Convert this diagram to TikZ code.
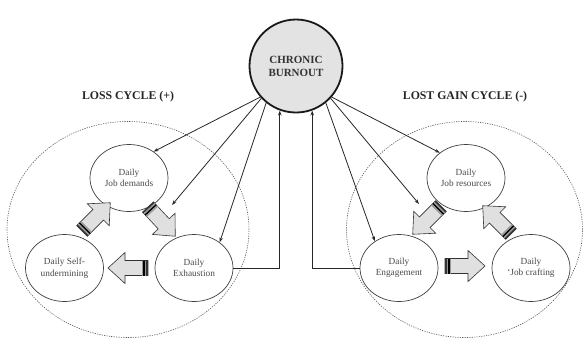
\documentclass[tikz,border=0pt]{standalone}
\usepackage{fontspec}
\setmainfont{Liberation Serif}
\usetikzlibrary{arrows.meta,calc,shapes.geometric}
\definecolor{txt}{HTML}{4A4A4A}
\definecolor{afill}{HTML}{E0E0E0}
\definecolor{bfill}{HTML}{E3E3E3}
\tikzset{
  daily/.style={ellipse, draw=black!75, fill=white, line width=0.7pt, minimum width=78pt, minimum height=67pt, inner sep=0pt, align=center, font=\fontsize{9.3}{11.5}\selectfont, text=txt},
  burnstyle/.style={circle, draw=black!90, fill=bfill, line width=1.8pt, minimum size=93pt, inner sep=0pt, align=center, font=\fontsize{11}{13}\selectfont\bfseries, text=black!80},
  cyclestyle/.style={draw=black!65, dash pattern=on 1.2pt off 1.2pt, line width=0.6pt},
  link/.style={draw=black!85, line width=0.8pt, -{Stealth[length=5pt,width=3.5pt]}},
  titlestyle/.style={font=\fontsize{11.8}{14}\selectfont\bfseries, text=black!85},
  blockarrow/.pic={
    \path[fill=afill, draw=black!80, line width=0.6pt] (0,-7.5) -- (23,-7.5) -- (23,-15.5) -- (40,0) -- (23,15.5) -- (23,7.5) -- (0,7.5) -- cycle;
    \fill[black!80] (0,-7.5) rectangle (1.6,7.5);
    \fill[black!40] (1.6,-7.5) rectangle (3.2,7.5);
    \fill[black] (3.2,-7.5) rectangle (4.8,7.5);
    \fill[black!40] (4.8,-7.5) rectangle (6.4,7.5);
  }
}
\begin{document}
\begin{tikzpicture}[x=1pt,y=1pt]
\useasboundingbox (0,0) rectangle (584,-357);
% dashed cycles
\draw[cyclestyle] (128,-229.5) ellipse [x radius=121, y radius=108];
\draw[cyclestyle] (464.5,-229.5) ellipse [x radius=118, y radius=108];
% titles
\node[titlestyle] (loss) at (128,-97) {LOSS CYCLE (+)};
\node[titlestyle] (gain) at (465,-97) {LOST GAIN CYCLE (-)};
% main node
\node[burnstyle] (burn) at (296,-66) {CHRONIC\\BURNOUT};
% daily nodes
\node[daily] (jd) at (129,-178) {Daily\\Job demands};
\node[daily] (su) at (64.5,-268) {Daily Self-\\undermining};
\node[daily] (ex) at (194,-268) {Daily\\Exhaustion};
\node[daily] (jr) at (466,-178) {Daily\\Job resources};
\node[daily] (en) at (399,-268) {Daily\\Engagement};
\node[daily] (jc) at (531,-268) {Daily\\\textquoteleft Job crafting};
% block arrows
\pic[rotate=45] at (82,-231) {blockarrow};
\pic[rotate=-47] at (148,-207) {blockarrow};
\pic[rotate=180] at (148,-268) {blockarrow};
\pic[rotate=225] at (441,-206) {blockarrow};
\pic[rotate=0] at (445,-266) {blockarrow};
\pic[rotate=135] at (511,-234) {blockarrow};
% moderation targets
\coordinate (jdlink) at (172,-205);
\coordinate (enlink) at (419,-204);
% connectors from burnout
\draw[link] (burn.221) -- (jd.47);
\draw[link] (burn.223) -- (jdlink);
\draw[link] (burn.231) -- (ex.45);
\draw[link] (burn.319) -- (jr.136);
\draw[link] (burn.317) -- (enlink);
\draw[link] (burn.309) -- (en.132);
% feedback to burnout
\draw[link] (ex.east) -| (burn.250);
\draw[link] (en.west) -| (burn.290);
\end{tikzpicture}
\end{document}
